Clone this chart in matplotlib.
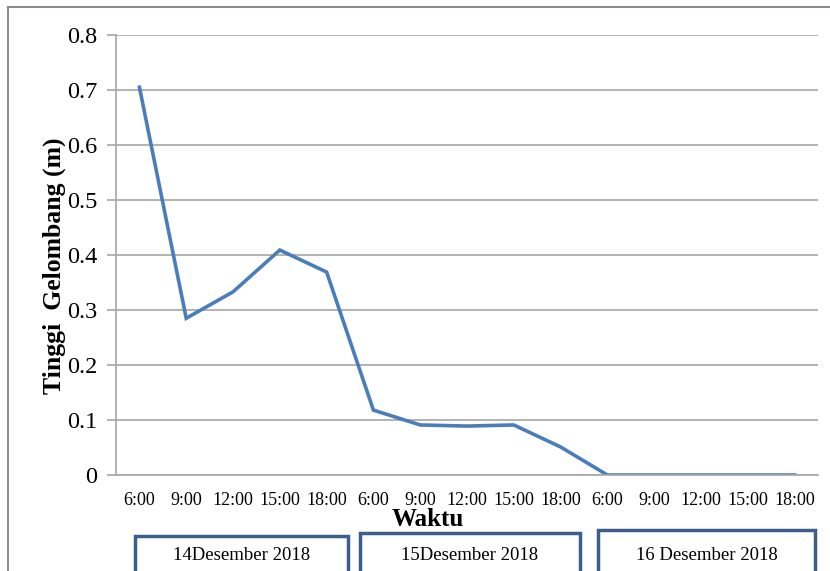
import matplotlib.pyplot as plt
from matplotlib.patches import Rectangle

# jam pengamatan tiap hari dan tinggi gelombang hasil pengukuran
jam = ["6:00", "9:00", "12:00", "15:00", "18:00"] * 3
tinggi = [0.705, 0.285, 0.333, 0.409, 0.369,
          0.118, 0.091, 0.089, 0.091, 0.051,
          0.0, 0.0, 0.0, 0.0, 0.0]
tanggal = ["14Desember 2018", "15Desember 2018", "16 Desember 2018"]
y_ticks = [0, 0.1, 0.2, 0.3, 0.4, 0.5, 0.6, 0.7, 0.8]

plt.rcParams["font.family"] = ["Liberation Serif", "DejaVu Serif"]

fig = plt.figure(figsize=(8.3, 5.71), dpi=100)
ax = fig.add_axes([0.1398, 0.1681, 0.8457, 0.7706])

x = list(range(len(jam)))
ax.plot(x, tinggi, color="#4a7ebb", linewidth=2.6, solid_joinstyle="miter")

ax.set_xlim(-0.5, len(jam) - 0.5)
ax.set_ylim(0, 0.8)
ax.set_yticks(y_ticks)
ax.set_yticklabels([f"{v:g}" for v in y_ticks], fontsize=17.5)
ax.set_xticks(x)
ax.set_xticklabels(jam, fontsize=13)
ax.tick_params(axis="y", length=6.5, color="#a6a6a6", width=1.2, pad=7)
ax.tick_params(axis="x", length=0, pad=12)

ax.grid(axis="y", color="#a6a6a6", linewidth=1.2)
ax.set_axisbelow(True)
for s in ["top", "right"]:
    ax.spines[s].set_visible(False)
for s in ["left", "bottom"]:
    ax.spines[s].set_color("#a6a6a6")
    ax.spines[s].set_linewidth(1.2)

ax.set_ylabel("Tinggi  Gelombang (m)", fontsize=18.5, fontweight="bold")
ax.yaxis.set_label_coords(-0.071, 0.475)
fig.text(428 / 830, 1 - 520 / 571, "Waktu", ha="center", va="center",
         fontsize=18, fontweight="bold")

# bingkai luar grafik
fig.add_artist(Rectangle((8 / 830, -0.05), 1.05, 1 - 7 / 571 + 0.05,
                         transform=fig.transFigure, fill=False,
                         edgecolor="#8c8c8c", linewidth=1.5))

# kotak tanggal di bawah sumbu waktu
kotak = [(135, 348, 536), (360, 580, 533), (598, 815, 530)]
for (x0, x1, y0), label in zip(kotak, tanggal):
    fig.add_artist(Rectangle((x0 / 830, -0.05), (x1 - x0) / 830,
                             1 - y0 / 571 + 0.05, transform=fig.transFigure,
                             fill=False, edgecolor="#3b5e8c", linewidth=2.5))
    fig.text((x0 + x1) / 2 / 830, 1 - 556 / 571, label, ha="center",
             va="center", fontsize=13.5)

fig.savefig("out.png", dpi=100)
